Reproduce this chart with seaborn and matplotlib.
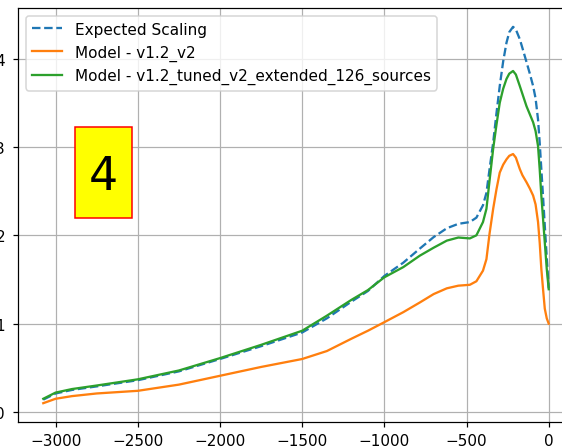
import matplotlib
matplotlib.use("Agg")
import matplotlib.pyplot as plt
import seaborn as sns
from matplotlib.patches import Rectangle

# positions (x) and the three scaling curves
positions = [-3075, -3000, -2900, -2750, -2500, -2250, -2000, -1750, -1500, -1350,
             -1200, -1100, -1000, -885, -784, -700, -620, -550, -480, -440,
             -400, -379, -360, -338, -318, -298, -277, -257, -240, -217,
             -200, -176, -160, -135, -115, -95, -80, -65, -55, -45,
             -35, -24, -12, 0]

expected = [0.14, 0.21, 0.25, 0.29, 0.36, 0.46, 0.60, 0.745, 0.90, 1.06,
            1.25, 1.37, 1.54, 1.69, 1.85, 1.98, 2.08, 2.13, 2.15, 2.20,
            2.34, 2.48, 2.75, 3.05, 3.38, 3.69, 3.97, 4.18, 4.30, 4.36,
            4.33, 4.22, 4.12, 3.96, 3.83, 3.69, 3.55, 3.31, 3.05, 2.75,
            2.45, 2.11, 1.75, 1.40]

model_v2 = [0.10, 0.15, 0.18, 0.21, 0.24, 0.31, 0.41, 0.51, 0.60, 0.69,
            0.83, 0.92, 1.017, 1.13, 1.24, 1.335, 1.40, 1.43, 1.44, 1.48,
            1.60, 1.73, 2.02, 2.30, 2.52, 2.71, 2.80, 2.86, 2.90, 2.92,
            2.88, 2.75, 2.68, 2.60, 2.53, 2.45, 2.35, 2.15, 1.92, 1.62,
            1.40, 1.17, 1.06, 1.00]

model_tuned = [0.15, 0.22, 0.26, 0.30, 0.37, 0.47, 0.61, 0.76, 0.92, 1.09,
               1.27, 1.38, 1.525, 1.64, 1.77, 1.86, 1.94, 1.975, 1.965, 2.00,
               2.15, 2.30, 2.62, 2.98, 3.25, 3.50, 3.66, 3.77, 3.83, 3.86,
               3.82, 3.69, 3.60, 3.46, 3.37, 3.28, 3.18, 3.01, 2.75, 2.45,
               2.20, 1.92, 1.62, 1.39]

labels = ["Expected Scaling", "Model - v1.2_v2", "Model - v1.2_tuned_v2_extended_126_sources"]

# original was rendered a bit larger than 100 dpi, so use 110
fig = plt.figure(figsize=(562 / 110, 448 / 110), dpi=110)
ax = fig.add_axes([18 / 562, 25 / 448, 556 / 562, 414 / 448])

sns.lineplot(x=positions, y=expected, ax=ax, color="#1f77b4", linestyle="--", linewidth=1.5, label=labels[0])
sns.lineplot(x=positions, y=model_v2, ax=ax, color="#ff7f0e", linewidth=1.5, label=labels[1])
sns.lineplot(x=positions, y=model_tuned, ax=ax, color="#2ca02c", linewidth=1.5, label=labels[2])

ax.set_xticks([-3000, -2500, -2000, -1500, -1000, -500, 0])
ax.set_yticks([0, 1, 2, 3, 4])
ax.tick_params(axis="y", pad=5)
ax.grid(True)
ax.legend(loc="upper left")

# yellow number box
ax.add_patch(Rectangle((0.1025, 0.4928), 0.102, 0.2205, transform=ax.transAxes,
                       facecolor="yellow", edgecolor="red", linewidth=1, zorder=5))
ax.text(0.1534, 0.5628, "4", transform=ax.transAxes, fontsize=30,
        ha="center", va="baseline", zorder=6)

fig.savefig("out.png", dpi=110)
